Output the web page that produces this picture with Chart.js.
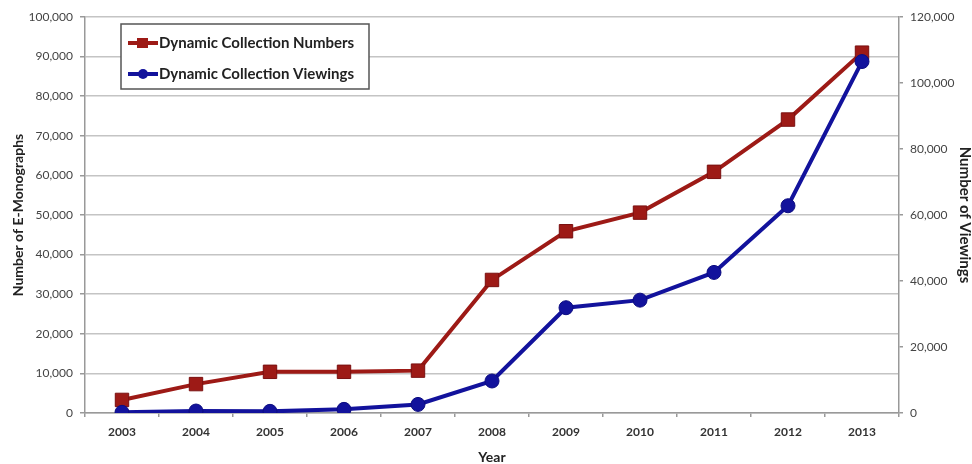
<!DOCTYPE html>
<html>
<head>
<meta charset="utf-8">
<script src="https://cdn.jsdelivr.net/npm/chart.js@4.4.1/dist/chart.umd.min.js"></script>
<style>
  html, body { margin: 0; padding: 0; background: #fff; }
  #wrap { position: relative; width: 972px; height: 464px; }
</style>
</head>
<body>
<div id="wrap"><canvas id="c" width="972" height="464"></canvas></div>
<script>
// Years on the horizontal axis
const years = ['2003','2004','2005','2006','2007','2008','2009','2010','2011','2012','2013'];

// Size of the dynamic collection (left axis)
const collectionNumbers = [3300, 7300, 10400, 10400, 10700, 33600, 45900, 50600, 60900, 74100, 91000];

// Viewings of the dynamic collection (right axis)
const collectionViewings = [200, 600, 500, 1100, 2600, 9700, 31900, 34200, 42600, 62800, 106500];

// Series names
const seriesNames = ['Dynamic Collection Numbers', 'Dynamic Collection Viewings'];

// Axis titles
const leftTitle = 'Number of E-Monographs';
const rightTitle = 'Number of Viewings';
const bottomTitle = 'Year';

const RED = '#9d1a16';
const BLUE = '#12129c';
const FONT = 'Lato, "Open Sans", sans-serif';

const fmt = v => Number(v).toLocaleString('en-US');

// Legend box drawn inside the plot area
const insideLegend = {
  id: 'insideLegend',
  afterDraw(chart) {
    const ctx = chart.ctx;
    const x0 = 121, y0 = 24, w = 248, h = 65;
    ctx.save();
    ctx.fillStyle = '#fff';
    ctx.fillRect(x0, y0, w, h);
    ctx.strokeStyle = '#555';
    ctx.lineWidth = 1.5;
    ctx.strokeRect(x0, y0, w, h);
    const rows = [
      { y: 43, color: RED, style: 'rect', label: chart.data.datasets[1].label },
      { y: 74, color: BLUE, style: 'circle', label: chart.data.datasets[0].label }
    ];
    rows.forEach(r => {
      ctx.strokeStyle = r.color;
      ctx.lineWidth = 4;
      ctx.beginPath();
      ctx.moveTo(128, r.y);
      ctx.lineTo(158, r.y);
      ctx.stroke();
      ctx.fillStyle = r.color;
      if (r.style === 'rect') {
        ctx.fillRect(137, r.y - 5, 11, 10);
      } else {
        ctx.beginPath();
        ctx.arc(143, r.y, 5, 0, Math.PI * 2);
        ctx.fill();
      }
      ctx.fillStyle = '#222';
      ctx.font = 'bold 15px ' + FONT;
      ctx.textBaseline = 'middle';
      ctx.textAlign = 'left';
      ctx.fillText(r.label, 159, r.y);
    });
    ctx.restore();
  }
};

new Chart(document.getElementById('c'), {
  type: 'line',
  data: {
    labels: years,
    datasets: [
      {
        label: seriesNames[1],
        data: collectionViewings,
        yAxisID: 'y1',
        borderColor: BLUE,
        backgroundColor: BLUE,
        borderWidth: 4,
        pointStyle: 'circle',
        pointRadius: 7,
        pointBorderWidth: 1,
        pointBorderColor: '#0c0c80',
        pointBackgroundColor: BLUE,
        tension: 0,
        order: 0
      },
      {
        label: seriesNames[0],
        data: collectionNumbers,
        yAxisID: 'y',
        borderColor: RED,
        backgroundColor: RED,
        borderWidth: 4,
        pointStyle: 'rect',
        pointRadius: 9.5,
        pointBorderWidth: 1,
        pointBorderColor: '#7a1010',
        pointBackgroundColor: RED,
        tension: 0,
        order: 1
      }
    ]
  },
  options: {
    responsive: false,
    animation: false,
    devicePixelRatio: 1,
    layout: { padding: { top: 17, left: 0, right: 0, bottom: 0 } },
    plugins: {
      legend: { display: false },
      tooltip: { enabled: false }
    },
    scales: {
      x: {
        type: 'category',
        offset: true,
        grid: {
          display: true,
          drawOnChartArea: false,
          offset: true,
          tickLength: 4,
          color: '#999',
          lineWidth: 1.5
        },
        border: { color: '#999', width: 1.5 },
        ticks: {
          color: '#333',
          font: { family: FONT, size: 12, weight: 'bold' },
          padding: 8,
          maxRotation: 0
        },
        title: {
          display: true,
          text: bottomTitle,
          color: '#222',
          font: { family: FONT, size: 14, weight: 'bold', lineHeight: 1 },
          padding: { top: 0, bottom: 0 }
        },
        afterFit(s) { s.height = 51; }
      },
      y: {
        position: 'left',
        min: 0,
        max: 100000,
        ticks: {
          stepSize: 10000,
          color: '#444',
          font: { family: FONT, size: 12 },
          padding: 7,
          callback: v => fmt(v)
        },
        grid: {
          color: '#c4c4c4',
          lineWidth: 1.5,
          tickLength: 5,
          tickColor: '#999'
        },
        border: { color: '#999', width: 1.5 },
        title: {
          display: true,
          text: leftTitle,
          color: '#222',
          font: { family: FONT, size: 14, weight: 'bold', lineHeight: 1 },
          padding: { top: 11, bottom: 0 }
        },
        afterFit(s) { s.width = 85; }
      },
      y1: {
        position: 'right',
        min: 0,
        max: 120000,
        ticks: {
          stepSize: 20000,
          color: '#444',
          font: { family: FONT, size: 12 },
          padding: 7,
          callback: v => fmt(v)
        },
        grid: {
          drawOnChartArea: false,
          tickLength: 4,
          color: '#999',
          lineWidth: 1.5
        },
        border: { color: '#999', width: 1.5 },
        title: {
          display: true,
          text: rightTitle,
          color: '#222',
          font: { family: FONT, size: 15, weight: 'bold', lineHeight: 1 },
          padding: { top: 0, bottom: 0 }
        },
        afterFit(s) { s.width = 73; }
      }
    }
  },
  plugins: [insideLegend]
});
</script>
</body>
</html>
